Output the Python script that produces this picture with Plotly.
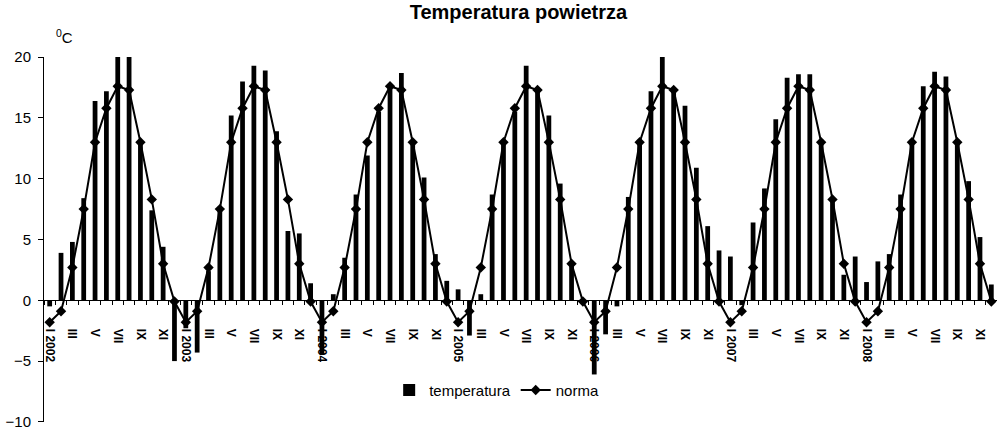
import plotly.graph_objects as go

# Lata i miesiace (cyfry rzymskie)
lata = [2002, 2003, 2004, 2005, 2006, 2007, 2008]
miesiace = ["I", "II", "III", "IV", "V", "VI", "VII", "VIII", "IX", "X", "XI", "XII"]

# Srednie miesieczne temperatury powietrza
temp_2002 = [-0.5, 3.9, 4.8, 8.4, 16.4, 17.2, 20.1, 20.2, 13.1, 7.4, 4.4, -5.0]
temp_2003 = [-2.3, -4.3, 2.4, 7.6, 15.2, 18.0, 19.3, 18.9, 13.9, 5.7, 5.5, 1.4]
temp_2004 = [-4.5, 0.5, 3.5, 8.7, 11.9, 15.5, 17.6, 18.7, 13.1, 10.1, 3.8, 1.6]
temp_2005 = [0.9, -2.9, 0.5, 8.7, 13.2, 15.5, 19.3, 17.3, 15.2, 9.6, 3.1, -0.1]
temp_2006 = [-6.1, -2.8, -0.5, 8.5, 13.2, 17.2, 20.3, 17.3, 16.0, 10.9, 6.1, 4.1]
temp_2007 = [3.6, -0.4, 6.4, 9.2, 14.9, 18.3, 18.6, 18.6, 13.2, 8.4, 2.1, 3.6]
temp_2008 = [1.5, 3.2, 3.8, 8.7, 13.2, 17.6, 18.8, 18.4, 13.2, 9.8, 5.2, 1.3]

# Norma wieloletnia dla kazdego miesiaca
norma_miesieczna = [-1.8, -0.9, 2.7, 7.5, 13.0, 15.8, 17.6, 17.3, 13.0, 8.3, 3.0, -0.1]

temperatura = temp_2002 + temp_2003 + temp_2004 + temp_2005 + temp_2006 + temp_2007 + temp_2008
norma = norma_miesieczna * len(lata)

# Kategorie osi X i etykiety (co drugi miesiac, styczen z rokiem)
kategorie = [f"{rok}-{i + 1:02d}" for rok in lata for i in range(12)]
etykiety = []
for rok in lata:
    for i, m in enumerate(miesiace):
        if i == 0:
            etykiety.append(f"{m} {rok}")
        elif i % 2 == 0:
            etykiety.append(m)
        else:
            etykiety.append("")

FONT = "Arial, Liberation Sans, sans-serif"

fig = go.Figure()

fig.add_trace(go.Bar(
    x=kategorie,
    y=temperatura,
    name="temperatura",
    marker=dict(color="black", line=dict(width=0)),
))

fig.add_trace(go.Scatter(
    x=kategorie,
    y=norma,
    mode="lines+markers",
    name="norma",
    line=dict(color="black", width=2),
    marker=dict(symbol="diamond", size=8, color="black"),
    cliponaxis=False,
))

fig.update_layout(
    width=997,
    height=429,
    margin=dict(l=44, r=0, t=57, b=7, autoexpand=False),
    plot_bgcolor="white",
    paper_bgcolor="white",
    font=dict(family=FONT, color="black", size=15),
    bargap=0.58,
    title=dict(
        text="<b>Temperatura powietrza</b>",
        x=0.52, xanchor="center",
        y=0.972, yanchor="middle",
        font=dict(size=20, family=FONT, color="black"),
    ),
    legend=dict(
        orientation="h",
        x=0.475, xanchor="center",
        y=0.087, yanchor="middle",
        font=dict(size=15, family=FONT),
        bgcolor="rgba(0,0,0,0)",
    ),
    xaxis=dict(
        type="category",
        range=[-0.5, len(kategorie) - 0.5],
        anchor="free",
        position=1 / 3,
        showline=True, linecolor="black", linewidth=1,
        ticks="outside", ticklen=4, tickcolor="black",
        tickson="boundaries",
        tickmode="array", tickvals=kategorie, ticktext=etykiety,
        tickangle=90,
        tickfont=dict(size=12, family=FONT, weight="bold"),
        ticklabelstandoff=25,
        ticklabeloverflow="allow",
        showgrid=False, zeroline=False,
    ),
    yaxis=dict(
        range=[-10.01, 20.01],
        tickmode="array",
        tickvals=[-10, -5, 0, 5, 10, 15, 20],
        showline=True, linecolor="black", linewidth=1,
        ticks="outside", ticklen=5, tickcolor="black",
        ticklabelstandoff=4,
        ticklabeloverflow="allow",
        showgrid=False, zeroline=False,
        tickfont=dict(size=15, family=FONT),
    ),
)

# Jednostka osi Y
fig.add_annotation(
    text="<sup>0</sup>C",
    xref="paper", yref="paper",
    x=0.011, y=1.055,
    xanchor="left", yanchor="middle",
    showarrow=False,
    font=dict(size=15, family=FONT),
)

# Bez marginesu strony, zeby wykres zaczynal sie w rogu okna
fig.write_html(
    "out.html",
    config={"displayModeBar": False},
    post_script="document.body.style.margin='0';",
)
